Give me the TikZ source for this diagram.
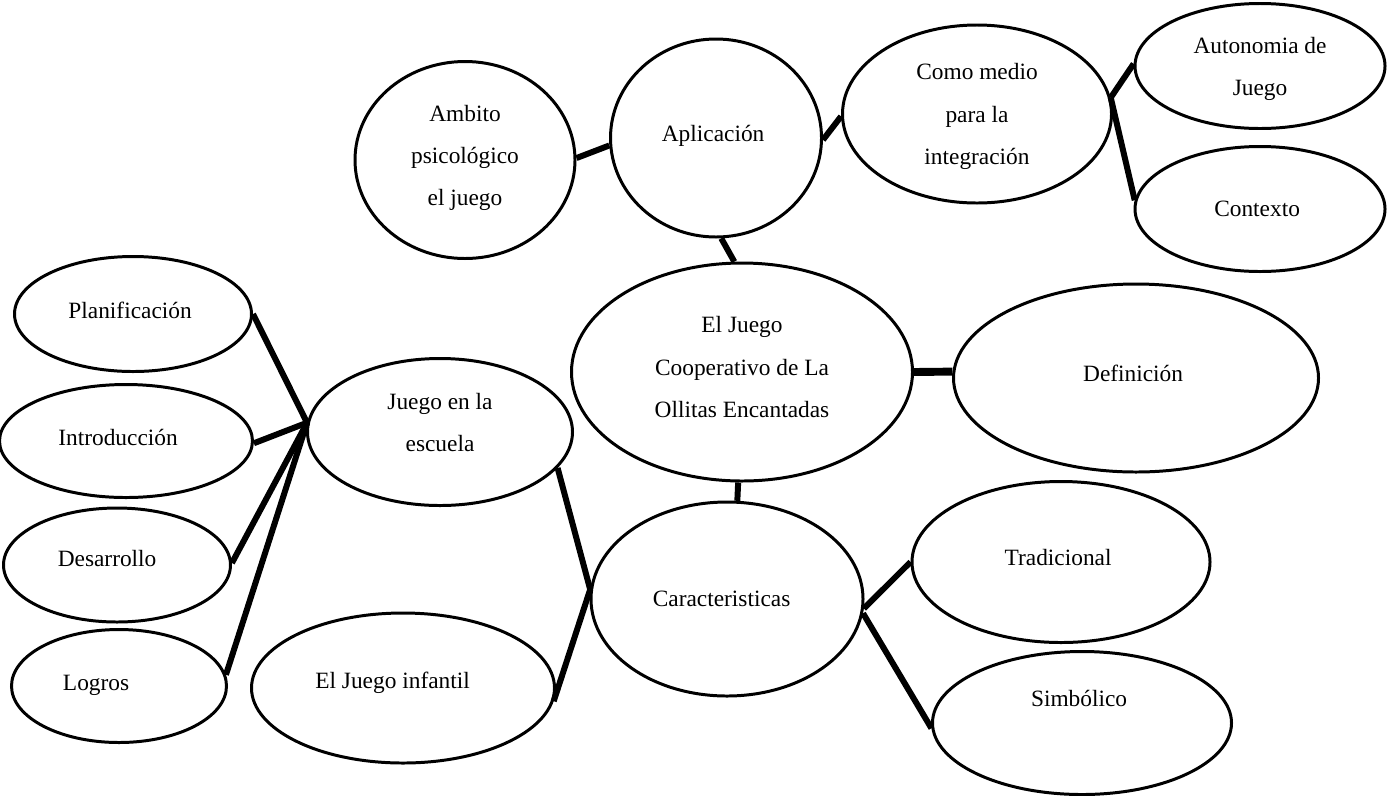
\documentclass[tikz,border=0pt]{standalone}
\usepackage{fontspec}
\setmainfont{Liberation Serif}
\usepackage{tikz}
\usetikzlibrary{shapes.geometric}

\begin{document}
\begin{tikzpicture}[x=0.02cm, y=-0.02cm,
	font=\fontsize{13.3}{24}\selectfont,
	bubble/.style 2 args={draw, ellipse, line width=1.7pt, inner sep=0pt, align=center,
		minimum width=#1*0.02cm, minimum height=#2*0.02cm},
	link/.style={line width=3.4pt}]
	\useasboundingbox (0,0) rectangle (1388,795);

	\node [bubble={341}{218}, text depth=0.2cm] (1) at (742,372) { El Juego \\ Cooperativo de La \\ Ollitas Encantadas };
	\node [bubble={211}{198}, text depth=0.2cm] (2) at (716,138) { Aplicación };
	\node [bubble={220}{197}, text depth=0.18cm] (3) at (465,160) { Ambito \\ psicológico \\ el juego };
	\node [bubble={269}{178}, text depth=0pt] (4) at (977,114) { Como medio \\ para la \\ integración };
	\node [bubble={250}{125}, text depth=0pt] (5) at (1260,66) { Autonomia de \\ Juego };
	\node [bubble={250}{125}] (6) at (1260,209) { Contexto };
	\node [bubble={365}{188}, text depth=0.2cm] (7) at (1136,378) { Definición };
	\node [bubble={272}{194}] (8) at (727,599) { Caracteristicas\hspace*{0.1cm} };
	\node [bubble={298}{161}, text depth=0.2cm] (9) at (1061,562) { Tradicional };
	\node [bubble={299}{143}, text depth=1cm] (10) at (1082,723) { Simbólico };
	\node [bubble={265}{147}, text depth=0.4cm] (11) at (440,432) { Juego en la \\ escuela };
	\node [bubble={303}{150}, text depth=0.3cm] (12) at (403,688) { El Juego infantil\hspace*{0.3cm} };
	\node [bubble={237}{115}, text depth=0.15cm] (13) at (133,314) { Planificación };
	\node [bubble={253}{113}, text depth=0.15cm] (14) at (126,441) { Introducción\hspace*{0.2cm} };
	\node [bubble={227}{114}, text depth=0.28cm] (15) at (117,565) { Desarrollo\hspace*{0.28cm} };
	\node [bubble={215}{113}, text depth=0.14cm] (16) at (119,686) { Logros\hspace*{0.8cm} };

	\draw [ link ]
	  (3.1) to
	  (2.184);
	\draw [ link ]
	  (2.359) to
	  (4.181);
	\draw [ link ]
	  (4.7) to
	  (5.179);
	\draw [ link ]
	  (4.7) to
	  (6.176);
	\draw [ link ]
	  (2.273) to
	  (1.94);
	\draw [ link, line width=4.5pt ]
	  (1.0) to
	  (7.178);
	\draw [ link ]
	  (1.268) to
	  (8.84);
	\draw [ link ]
	  (11.343) to
	  (8.176);
	\draw [ link ]
	  (12.355) to
	  (8.176);
	\draw [ link ]
	  (8.356) to
	  (9.180);
	\draw [ link ]
	  (8.354) to
	  (10.182);
	\draw [ link ]
	  (13.0) to
	  (11.176);
	\draw [ link ]
	  (14.359) to
	  (11.176);
	\draw [ link ]
	  (15.1) to
	  (11.176);
	\draw [ link ]
	  (16.6) to
	  (11.176);
\end{tikzpicture}
\end{document}
